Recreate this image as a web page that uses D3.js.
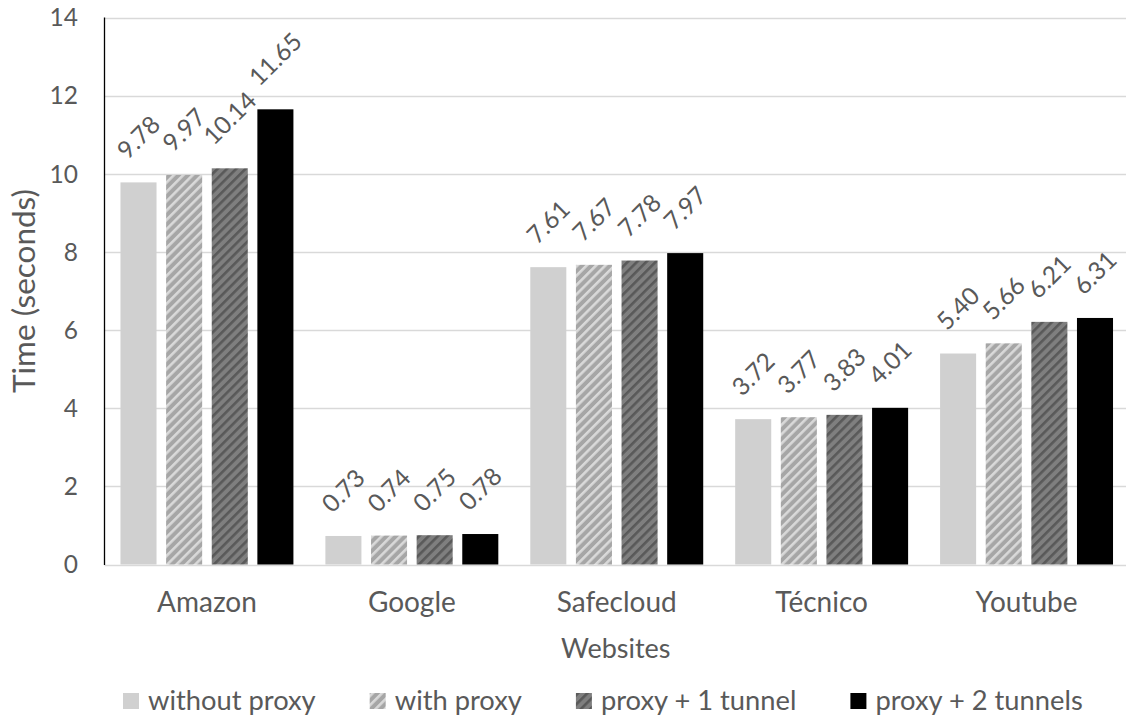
<!DOCTYPE html>
<html>
<head>
<meta charset="utf-8">
<script src="https://cdn.jsdelivr.net/npm/d3@7"></script>
<style>
  html, body { margin: 0; padding: 0; background: #fff; }
  svg { display: block; font-family: Lato, "Open Sans", sans-serif; }
</style>
</head>
<body>
<svg id="chart" width="1126" height="718"></svg>
<script>
// ---- data ----
const categories = ["Amazon", "Google", "Safecloud", "Técnico", "Youtube"];
const seriesNames = ["without proxy", "with proxy", "proxy + 1 tunnel", "proxy + 2 tunnels"];
const withoutProxy   = [9.78, 0.73, 7.61, 3.72, 5.40];
const withProxy      = [9.97, 0.74, 7.67, 3.77, 5.66];
const proxy1Tunnel   = [10.14, 0.75, 7.78, 3.83, 6.21];
const proxy2Tunnels  = [11.65, 0.78, 7.97, 4.01, 6.31];
const yTicks = [0, 2, 4, 6, 8, 10, 12, 14];
const yTitle = "Time (seconds)";
const xTitle = "Websites";

const seriesValues = [withoutProxy, withProxy, proxy1Tunnel, proxy2Tunnels];

// ---- layout ----
const W = 1126, H = 718;
const plot = { left: 104.5, right: 1129, top: 17.5, bottom: 564.5 };
const textColor = "#595959";

const svg = d3.select("#chart");
const defs = svg.append("defs");

function stripePattern(id, base, stripe) {
  const p = defs.append("pattern")
    .attr("id", id)
    .attr("patternUnits", "userSpaceOnUse")
    .attr("width", 6.6).attr("height", 6.6)
    .attr("patternTransform", "rotate(45)");
  p.append("rect").attr("width", 6.6).attr("height", 6.6).attr("fill", base);
  p.append("rect").attr("x", 0).attr("width", 2.6).attr("height", 6.6).attr("fill", stripe);
}
stripePattern("hatchLight", "#a6a6a6", "#d9d9d9");
stripePattern("hatchDark", "#7f7f7f", "#595959");

const fills = ["#d0d0d0", "url(#hatchLight)", "url(#hatchDark)", "#000000"];

const x = d3.scaleBand().domain(categories).range([plot.left, plot.right]).padding(0);
const bw = x.bandwidth();
const x1 = d3.scaleBand().domain(seriesNames)
  .range([bw * 0.078, bw * 0.922]).paddingInner(0.21).paddingOuter(0);
const y = d3.scaleLinear().domain([0, 14]).range([plot.bottom, plot.top]);

// gridlines
svg.append("g").selectAll("line").data(yTicks).join("line")
  .attr("x1", plot.left).attr("x2", W)
  .attr("y1", d => Math.round(y(d)) + 0.5).attr("y2", d => Math.round(y(d)) + 0.5)
  .attr("stroke", "#d9d9d9").attr("stroke-width", 1.3);

// y tick labels
svg.append("g").selectAll("text").data(yTicks).join("text")
  .attr("x", 78).attr("y", d => y(d))
  .attr("dy", "0.36em")
  .attr("text-anchor", "end")
  .attr("fill", textColor)
  .style("font-size", "24.5px")
  .text(d => d);

// bars
const groups = svg.append("g").selectAll("g").data(categories).join("g")
  .attr("transform", d => `translate(${x(d)},0)`);

const barData = (c, ci) => seriesNames.map((s, si) => ({ s, si, v: seriesValues[si][ci] }));

groups.each(function(c, ci) {
  const g = d3.select(this);
  const data = barData(c, ci);
  g.selectAll("rect").data(data).join("rect")
    .attr("x", d => x1(d.s))
    .attr("width", x1.bandwidth())
    .attr("y", d => y(d.v))
    .attr("height", d => y(0) - y(d.v))
    .attr("fill", d => fills[d.si]);

  // rotated value labels
  g.selectAll("text.val").data(data).join("text")
    .attr("class", "val")
    .attr("fill", textColor)
    .style("font-size", "24.5px")
    .attr("text-anchor", "middle")
    .attr("dy", "0.35em")
    .text(d => d.v.toFixed(2))
    .each(function(d) {
      const L = this.getComputedTextLength();
      const h = 17;
      const half = (L + h) / (2 * Math.SQRT2);
      const cx = x1(d.s) + x1.bandwidth() / 2;
      const cy = y(d.v) - 22 - half;
      d3.select(this).attr("transform", `translate(${cx},${cy}) rotate(-45)`);
    });
});

// left axis line
svg.append("line")
  .attr("x1", plot.left).attr("x2", plot.left)
  .attr("y1", plot.top).attr("y2", plot.bottom + 0.5)
  .attr("stroke", "#000").attr("stroke-width", 1.3);

// category labels
svg.append("g").selectAll("text").data(categories).join("text")
  .attr("x", d => x(d) + bw / 2).attr("y", 612)
  .attr("text-anchor", "middle")
  .attr("fill", textColor)
  .style("font-size", "28px")
  .text(d => d);

// x title
svg.append("text")
  .attr("x", x(categories[0]) + (x(categories[4]) + bw - x(categories[0])) / 2 - 1)
  .attr("y", 658)
  .attr("text-anchor", "middle")
  .attr("fill", textColor)
  .style("font-size", "27px")
  .text(xTitle);

// y title
svg.append("text")
  .attr("transform", `translate(35,${(plot.top + plot.bottom) / 2}) rotate(-90)`)
  .attr("text-anchor", "middle")
  .attr("fill", textColor)
  .style("font-size", "31.5px")
  .text(yTitle);

// legend
const legend = svg.append("g");
let lx = 123;
seriesNames.forEach((s, i) => {
  legend.append("rect")
    .attr("x", lx).attr("y", 693).attr("width", 16).attr("height", 16)
    .attr("fill", fills[i]);
  const t = legend.append("text")
    .attr("x", lx + 25).attr("y", 710)
    .attr("fill", textColor)
    .style("font-size", "27.3px")
    .text(s);
  lx = lx + 25 + t.node().getComputedTextLength() + 54;
});
</script>
</body>
</html>
